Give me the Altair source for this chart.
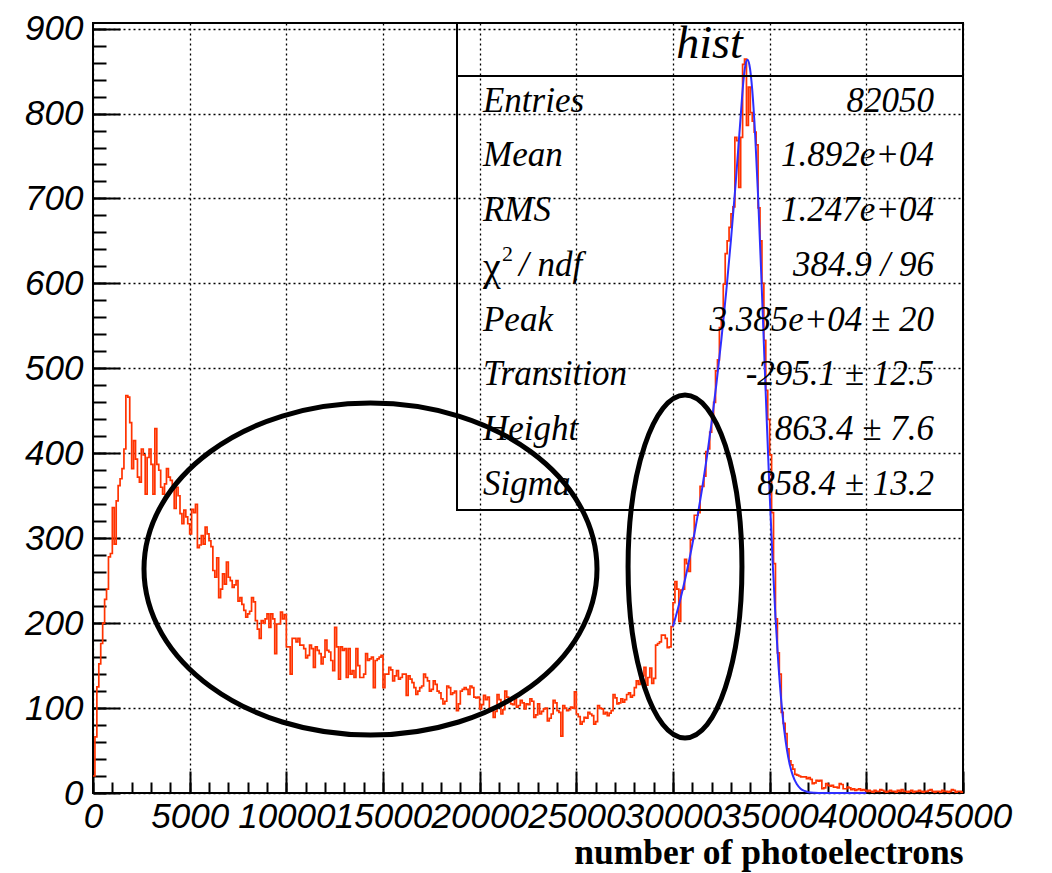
import altair as alt
import pandas as pd

# ---------------- data ----------------
BIN_WIDTH = 100
X_MAX = 45000
Y_MAX = 906.6

COUNTS_0_49 = [20, 66, 125, 152, 176, 200, 228, 240, 278, 282,
               336, 293, 344, 362, 370, 382, 405, 468, 466, 436,
               382, 415, 393, 372, 366, 405, 398, 352, 395, 405,
               387, 352, 429, 387, 380, 360, 352, 364, 382, 372,
               368, 360, 335, 360, 350, 329, 317, 333, 325, 317]
COUNTS_50_99 = [305, 334, 330, 340, 289, 292, 303, 293, 313, 305,
                297, 290, 262, 254, 277, 230, 240, 258, 246, 272,
                254, 250, 242, 245, 250, 226, 230, 222, 215, 207,
                211, 214, 230, 225, 203, 193, 182, 203, 200, 205,
                211, 195, 211, 205, 164, 199, 199, 213, 205, 210]
COUNTS_100_149 = [172, 172, 140, 182, 182, 178, 182, 174, 174, 170,
                  159, 162, 174, 170, 148, 172, 168, 164, 152, 160,
                  180, 168, 166, 156, 144, 195, 172, 134, 172, 168,
                  170, 136, 170, 140, 144, 136, 170, 150, 136, 136,
                  140, 164, 156, 158, 160, 124, 156, 158, 160, 162]
COUNTS_150_199 = [124, 140, 140, 148, 145, 132, 138, 144, 134, 136,
                  140, 140, 115, 138, 134, 130, 124, 116, 120, 124,
                  126, 140, 136, 132, 120, 122, 132, 128, 120, 118,
                  111, 105, 108, 126, 124, 116, 118, 120, 97, 105,
                  120, 122, 124, 122, 116, 126, 124, 113, 112, 113]
COUNTS_200_249 = [99, 104, 115, 110, 113, 97, 100, 89, 96, 116,
                  110, 93, 98, 120, 113, 110, 105, 104, 111, 101,
                  103, 109, 106, 99, 105, 104, 111, 108, 89, 92,
                  105, 93, 96, 99, 100, 85, 88, 93, 109, 106,
                  97, 95, 67, 103, 100, 97, 98, 101, 100, 119]
COUNTS_250_299 = [93, 90, 81, 84, 89, 88, 95, 93, 91, 81,
                  84, 103, 100, 99, 93, 95, 91, 94, 97, 116,
                  112, 105, 106, 111, 107, 110, 116, 118, 113, 115,
                  124, 132, 128, 140, 138, 148, 127, 136, 147, 129,
                  135, 174, 176, 178, 186, 186, 182, 171, 172, 196]
COUNTS_300_349 = [224, 249, 240, 202, 239, 240, 275, 270, 261, 298,
                  300, 327, 327, 330, 361, 361, 373, 402, 405, 425,
                  441, 460, 497, 510, 548, 560, 599, 635, 650, 666,
                  682, 690, 772, 768, 713, 772, 858, 864, 786, 831,
                  801, 791, 778, 763, 689, 650, 600, 533, 474, 440]
COUNTS_350_399 = [398, 330, 270, 205, 165, 140, 95, 82, 70, 52,
                  38, 33, 28, 22, 21, 20, 19, 19, 19, 17,
                  18, 16, 11, 12, 15, 14, 15, 5, 6, 11,
                  9, 8, 9, 7, 7, 6, 11, 10, 5, 5,
                  7, 6, 4, 5, 3, 4, 5, 3, 4, 3]
COUNTS_400_449 = [2, 3, 2, 1, 3, 2, 2, 4, 3, 2,
                  1, 2, 3, 2, 2, 1, 3, 2, 4, 2,
                  2, 1, 2, 3, 1, 2, 2, 3, 2, 1,
                  2, 2, 3, 4, 2, 1, 2, 2, 1, 3,
                  2, 2, 1, 2, 4, 3, 1, 2, 2, 1]

counts = (COUNTS_0_49 + COUNTS_50_99 + COUNTS_100_149 + COUNTS_150_199 +
          COUNTS_200_249 + COUNTS_250_299 + COUNTS_300_349 + COUNTS_350_399 +
          COUNTS_400_449)

# fitted curve
FIT_X = [30000, 30250, 30500, 30750, 31000, 31250, 31500, 31750, 32000, 32250,
         32500, 32750, 33000, 33250, 33500, 33555, 33650, 33750, 33850, 33950,
         34100, 34250, 34400, 34550, 34700, 34850, 35000, 35150, 35300, 35450,
         35600, 35750, 35900, 36050, 36200, 36400, 36600, 36800, 37000, 37300,
         37600, 38000, 39000, 40000]
FIT_Y = [196.0, 216.6, 239.4, 264.6, 292.6, 323.3, 357.4, 395.1, 436.6, 482.6,
         533.5, 589.6, 651.7, 720.3, 796.3, 813.9, 840.3, 857.5, 863.4, 857.5,
         827.6, 774.6, 703.2, 619.2, 528.8, 438.0, 351.9, 274.3, 207.3, 152.0,
         108.1, 74.5, 49.8, 32.3, 20.4, 10.5, 5.1, 2.4, 1.0, 0.3,
         0.1, 0, 0, 0]

X_TICKS = list(range(0, 45001, 5000))
X_MINOR = list(range(0, 45001, 1000))
Y_TICKS = list(range(0, 901, 100))
Y_MINOR = list(range(0, 901, 20))

STAT_LABELS = ["Entries", "Mean", "RMS", "Peak", "Transition", "Height", "Sigma"]
STAT_LABEL_Y = [802.2, 737.7, 673.3, 544.3, 479.8, 415.4, 350.9]
STAT_VALUES = ["82050", "1.892e+04", "1.247e+04", "384.9 / 96",
               "3.385e+04 ± 20", "-295.1 ± 12.5", "863.4 ± 7.6", "858.4 ± 13.2"]
STAT_VALUE_Y = [802.2, 737.7, 673.3, 608.7, 544.3, 479.8, 415.4, 350.9]
CHI_ROW_Y = 608.7
LABEL_X = 20172
VALUE_X = 43500
BOX_X, BOX_X2, BOX_Y, BOX_Y2 = 18828, 45000, 333.2, 906.6
SEP_Y = 844.2
TITLE_X, TITLE_Y = 31888, 865.4

BIG_ELL = (14353, 263.7)
SMALL_ELL = (30621, 266.7)

RED = "#ff3300"
BLUE = "#2e2eff"

# ---------------- helpers ----------------
xs = alt.Scale(domain=[0, X_MAX], nice=False, zero=False)
ys = alt.Scale(domain=[0, Y_MAX], nice=False, zero=False)


def ellipse_path(rx, ry):
    k = 0.5523
    kx, ky = k * rx, k * ry
    return (f"M {rx} 0 C {rx} {ky} {kx} {ry} 0 {ry} "
            f"C {-kx} {ry} {-rx} {ky} {-rx} 0 "
            f"C {-rx} {-ky} {-kx} {-ry} 0 {-ry} "
            f"C {kx} {-ry} {rx} {-ky} {rx} 0 Z")


tick_common = dict(domain=False, labels=False, grid=False, ticks=True,
                   tickColor="black", tickWidth=2, title=None)

hist_df = pd.DataFrame({
    "x": [i * BIN_WIDTH for i in range(len(counts))] + [X_MAX],
    "y": counts + [counts[-1]],
})
fit_df = pd.DataFrame({"x": FIT_X, "y": FIT_Y})

# main histogram with labelled axes and grid
hist = alt.Chart(hist_df).mark_line(
    interpolate="step-after", color=RED, strokeWidth=1.7
).encode(
    x=alt.X("x:Q", scale=xs, axis=alt.Axis(
        orient="bottom", values=X_TICKS, format="d",
        labelFont="Liberation Sans", labelFontStyle="italic", labelFontSize=35,
        labelColor="black", labelPadding=6, labelOverlap=False,
        labelFlush=False, labelBound=False,
        ticks=False, tickSize=0, domain=False,
        grid=True, gridColor="black", gridDash=[2, 3], gridWidth=1.3,
        gridOpacity=1,
        title="number of photoelectrons", titleFont="Liberation Serif",
        titleFontWeight="bold", titleFontSize=35.5, titleColor="black",
        titleAnchor="end", titleAlign="right", titleBaseline="alphabetic",
        titleX=870, titleY=70)),
    y=alt.Y("y:Q", scale=ys, axis=alt.Axis(
        orient="left", values=Y_TICKS, format="d",
        labelFont="Liberation Sans", labelFontStyle="italic", labelFontSize=35,
        labelColor="black", labelPadding=10, labelOverlap=False,
        labelFlush=False, labelBound=False,
        ticks=False, tickSize=0, domain=False,
        grid=True, gridColor="black", gridDash=[2, 3], gridWidth=1.3,
        gridOpacity=1, title=None)),
)

# fit curve, carrying the major tick axes
fit = alt.Chart(fit_df).mark_line(
    interpolate="monotone", color=BLUE, strokeWidth=2
).encode(
    x=alt.X("x:Q", scale=xs, axis=alt.Axis(
        orient="bottom", values=X_TICKS, tickSize=22, offset=-22, **tick_common)),
    y=alt.Y("y:Q", scale=ys, axis=alt.Axis(
        orient="left", values=Y_TICKS, tickSize=27, offset=-27, **tick_common)),
)

# ellipses, the big one carrying the minor tick axes
big_ell = alt.Chart(pd.DataFrame({"x": [BIG_ELL[0]], "y": [BIG_ELL[1]]})).mark_point(
    shape=ellipse_path(1, 0.733), size=453 ** 2, filled=False,
    stroke="black", strokeWidth=5, opacity=1
).encode(
    x=alt.X("x:Q", scale=xs, axis=alt.Axis(
        orient="bottom", values=X_MINOR, tickSize=11, offset=-11, **tick_common)),
    y=alt.Y("y:Q", scale=ys, axis=alt.Axis(
        orient="left", values=Y_MINOR, tickSize=13, offset=-13, **tick_common)),
)

small_ell = alt.Chart(pd.DataFrame({"x": [SMALL_ELL[0]], "y": [SMALL_ELL[1]]})).mark_point(
    shape=ellipse_path(0.332, 1), size=343 ** 2, filled=False,
    stroke="black", strokeWidth=5, opacity=1
).encode(
    x=alt.X("x:Q", scale=xs, axis=None),
    y=alt.Y("y:Q", scale=ys, axis=None),
)

# stats box
box = alt.Chart(pd.DataFrame({"x": [BOX_X], "x2": [BOX_X2], "y": [BOX_Y], "y2": [BOX_Y2]})).mark_rect(
    fillOpacity=0, stroke="black", strokeWidth=2
).encode(
    x=alt.X("x:Q", scale=xs, axis=None), x2="x2:Q",
    y=alt.Y("y:Q", scale=ys, axis=None), y2="y2:Q",
)
sep = alt.Chart(pd.DataFrame({"x": [BOX_X], "x2": [BOX_X2], "y": [SEP_Y]})).mark_rule(
    color="black", strokeWidth=1.8
).encode(
    x=alt.X("x:Q", scale=xs, axis=None), x2="x2:Q",
    y=alt.Y("y:Q", scale=ys, axis=None),
)

serif = "Liberation Serif"
title_txt = alt.Chart(pd.DataFrame({"x": [TITLE_X], "y": [TITLE_Y], "t": ["hist"]})).mark_text(
    font=serif, fontStyle="italic", fontSize=46, align="center",
    baseline="alphabetic", color="black"
).encode(x=alt.X("x:Q", scale=xs, axis=None), y=alt.Y("y:Q", scale=ys, axis=None), text="t:N")

labels_txt = alt.Chart(pd.DataFrame({"x": [LABEL_X] * len(STAT_LABELS), "y": STAT_LABEL_Y,
                                     "t": STAT_LABELS})).mark_text(
    font=serif, fontStyle="italic", fontSize=35, align="left",
    baseline="alphabetic", color="black"
).encode(x=alt.X("x:Q", scale=xs, axis=None), y=alt.Y("y:Q", scale=ys, axis=None), text="t:N")

chi_df = pd.DataFrame({"x": [LABEL_X], "y": [CHI_ROW_Y]})
chi = alt.Chart(chi_df).mark_text(
    font=serif, fontSize=40, align="left", baseline="alphabetic", color="black", text="χ", dy=4
).encode(x=alt.X("x:Q", scale=xs, axis=None), y=alt.Y("y:Q", scale=ys, axis=None))
chi2 = alt.Chart(chi_df).mark_text(
    font=serif, fontSize=22, align="left", baseline="alphabetic", color="black",
    text="2", dx=19, dy=-15
).encode(x=alt.X("x:Q", scale=xs, axis=None), y=alt.Y("y:Q", scale=ys, axis=None))
ndf = alt.Chart(chi_df).mark_text(
    font=serif, fontStyle="italic", fontSize=35, align="left", baseline="alphabetic",
    color="black", text="/ ndf", dx=36
).encode(x=alt.X("x:Q", scale=xs, axis=None), y=alt.Y("y:Q", scale=ys, axis=None))

values_txt = alt.Chart(pd.DataFrame({"x": [VALUE_X] * len(STAT_VALUES), "y": STAT_VALUE_Y,
                                     "t": STAT_VALUES})).mark_text(
    font=serif, fontStyle="italic", fontSize=35, align="right",
    baseline="alphabetic", color="black"
).encode(x=alt.X("x:Q", scale=xs, axis=None), y=alt.Y("y:Q", scale=ys, axis=None), text="t:N")

chart = alt.layer(
    hist, fit, big_ell, small_ell, box, sep, title_txt, labels_txt, chi, chi2, ndf, values_txt
).resolve_axis(
    x="independent", y="independent"
).properties(
    width=870, height=770,
    padding={"left": 85, "top": 15, "right": 60, "bottom": 80},
    autosize=alt.AutoSizeParams(type="none"),
    background="white",
).configure_view(
    stroke="black", strokeWidth=2
)

chart.save("out.html", embed_options={"renderer": "svg", "actions": False})
